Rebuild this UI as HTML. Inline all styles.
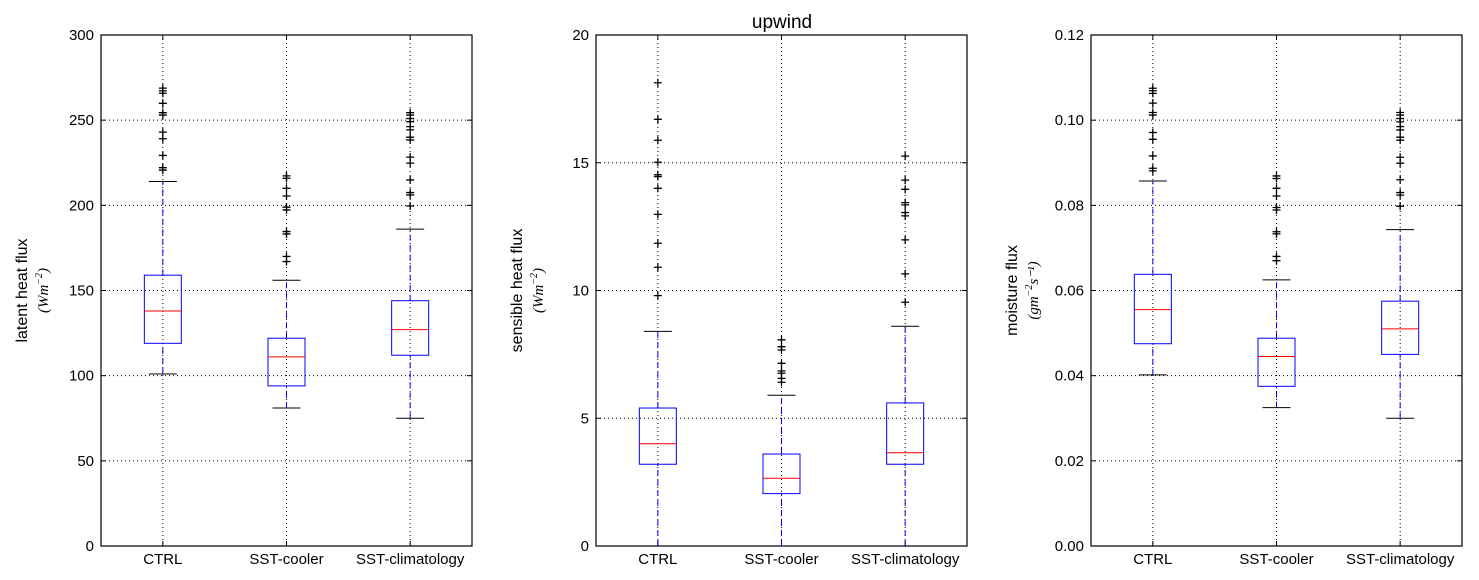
<!DOCTYPE html>
<html><head><meta charset="utf-8"><style>
body{margin:0;background:#fff;}
svg{display:block;font-family:"Liberation Sans",sans-serif;}
</style></head><body>
<svg id="chart" width="1479" height="580" xmlns="http://www.w3.org/2000/svg">
<rect width="1479" height="580" fill="#fff"/>
<text x="782" y="28" font-size="19" text-anchor="middle">upwind</text>
</svg>
<script>
const categories = ["CTRL","SST-cooler","SST-climatology"];
// panel 1: latent heat flux  [low, q1, med, q3, high]
const latentStats = [[101,119,138,159,214],[81,94,111,122,156],[75,112,127,144,186]];
const latentOutliers = [
 [268.8,267.2,265.8,259.9,254.4,253,243,239.1,229.3,222.1,220.7],
 [217.3,215.9,210,205.5,198.9,197.3,184.6,183.2,170,167],
 [254.4,253,251,249.1,246.2,244.3,240,238.4,228.3,224.8,214.9,207.5,206.1,199.6]];
const latentTicks = ["0","50","100","150","200","250","300"];
// panel 2: sensible heat flux
const sensibleStats = [[0,3.2,4.0,5.4,8.4],[0,2.05,2.65,3.6,5.9],[0,3.2,3.65,5.6,8.6]];
const sensibleOutliers = [
 [18.13,16.7,15.88,15.02,14.53,14.46,14.0,12.98,11.85,10.91,9.8],
 [8.07,7.8,7.67,7.15,6.85,6.76,6.56,6.41],
 [15.26,14.32,13.96,13.44,13.35,13.05,12.92,11.98,10.65,9.54]];
const sensibleTicks = ["0","5","10","15","20"];
// panel 3: moisture flux
const moistStats = [[0.0402,0.0475,0.0555,0.0638,0.0857],[0.0325,0.0375,0.0445,0.0488,0.0625],[0.030,0.045,0.051,0.0575,0.0743]];
const moistOutliers = [
 [0.1075,0.1069,0.1063,0.104,0.1018,0.1012,0.0971,0.0955,0.0916,0.0887,0.0881],
 [0.0869,0.0863,0.084,0.0822,0.0795,0.0789,0.0738,0.0733,0.068,0.067],
 [0.1018,0.1012,0.1004,0.0996,0.0985,0.0977,0.096,0.0953,0.0913,0.0899,0.086,0.083,0.0824,0.0798]];
const moistTicks = ["0.00","0.02","0.04","0.06","0.08","0.10","0.12"];

const svg=document.getElementById('chart');
const NS="http://www.w3.org/2000/svg";
function mk(tag,attrs,parent){const e=document.createElementNS(NS,tag);for(const k in attrs)e.setAttribute(k,attrs[k]);(parent||svg).appendChild(e);return e;}

function panel(x0,name,label,unitMain,unitSup,unitTail,stats,outs,ticks,ymax){
  const x1=x0+371,top=35,bot=546;
  const g=mk('g',{});
  
  
  const ys=v=>bot-(v/ymax)*(bot-top);
  const xs=i=>x0+(x1-x0)*(1+2*i)/6;
  // grid
  ticks.forEach((t,i)=>{const v=ymax*i/(ticks.length-1);const y=ys(v);
    if(i>0&&i<ticks.length-1){const gl=mk('line',{x1:x0,x2:x1,y1:y,y2:y,stroke:'#000','stroke-width':1,'stroke-dasharray':'1,3'},g);
      }
    mk('line',{x1:x0,x2:x0+5,y1:y,y2:y,stroke:'#000'},g);
    mk('line',{x1:x1-5,x2:x1,y1:y,y2:y,stroke:'#000'},g);
    const tl=mk('text',{x:x0-7,y:y+5,'font-size':15,'text-anchor':'end'},g);tl.textContent=t;
    
  });
  categories.forEach((c,i)=>{const x=xs(i);
    const gl=mk('line',{x1:x,x2:x,y1:top,y2:bot,stroke:'#000','stroke-width':1,'stroke-dasharray':'1,3'},g);
    
    mk('line',{x1:x,x2:x,y1:bot-5,y2:bot,stroke:'#000'},g);
    mk('line',{x1:x,x2:x,y1:top,y2:top+5,stroke:'#000'},g);
    const tl=mk('text',{x:x,y:bot+18,'font-size':15,'text-anchor':'middle'},g);tl.textContent=c;
    
    const s=stats[i];const bw=18.5,cw=14;
    const b=mk('g',{},g);
    
    
    mk('line',{x1:x,x2:x,y1:ys(s[0]),y2:ys(s[1]),stroke:'#00f','stroke-dasharray':'6,4'},b);
    mk('line',{x1:x,x2:x,y1:ys(s[3]),y2:ys(s[4]),stroke:'#00f','stroke-dasharray':'6,4'},b);
    mk('line',{x1:x-cw,x2:x+cw,y1:ys(s[0]),y2:ys(s[0]),stroke:'#000'},b);
    mk('line',{x1:x-cw,x2:x+cw,y1:ys(s[4]),y2:ys(s[4]),stroke:'#000'},b);
    mk('rect',{x:x-bw,y:ys(s[3]),width:2*bw,height:ys(s[1])-ys(s[3]),fill:'none',stroke:'#00f'},b);
    mk('line',{x1:x-bw,x2:x+bw,y1:ys(s[2]),y2:ys(s[2]),stroke:'#f00'},b);
    outs[i].forEach(v=>{const y=ys(v);
      const p=mk('path',{d:`M${x-4},${y}H${x+4}M${x},${y-4}V${y+4}`,stroke:'#000','stroke-width':1.3},b);
      });
  });
  const fr=mk('rect',{x:x0,y:top,width:371,height:bot-top,fill:'none',stroke:'#000','stroke-width':1.2},g);
  
  const cy=(top+bot)/2;
  const l1=mk('text',{transform:`translate(${x0-74},${cy}) rotate(-90)`,'font-size':16,'text-anchor':'middle'},g);
  l1.textContent=label;
  const l2=mk('text',{transform:`translate(${x0-53},${cy}) rotate(-90)`,'font-size':15,'text-anchor':'middle','font-family':'"Liberation Serif",serif','font-style':'italic'},g);
  
  l2.appendChild(document.createTextNode('('+unitMain));
  const sp=mk('tspan',{'font-size':10,dy:-6},l2);sp.textContent=unitSup;
  const tl=mk('tspan',{dy:6},l2);tl.textContent=unitTail+')';
}
panel(101,'latent','latent heat flux','Wm','\u22122','',latentStats,latentOutliers,latentTicks,300);
panel(596,'sensible','sensible heat flux','Wm','\u22122','',sensibleStats,sensibleOutliers,sensibleTicks,20);
panel(1091,'moisture','moisture flux','gm','\u22122','s\u207B\u00B9',moistStats,moistOutliers,moistTicks,0.12);
</script>
</body></html>
